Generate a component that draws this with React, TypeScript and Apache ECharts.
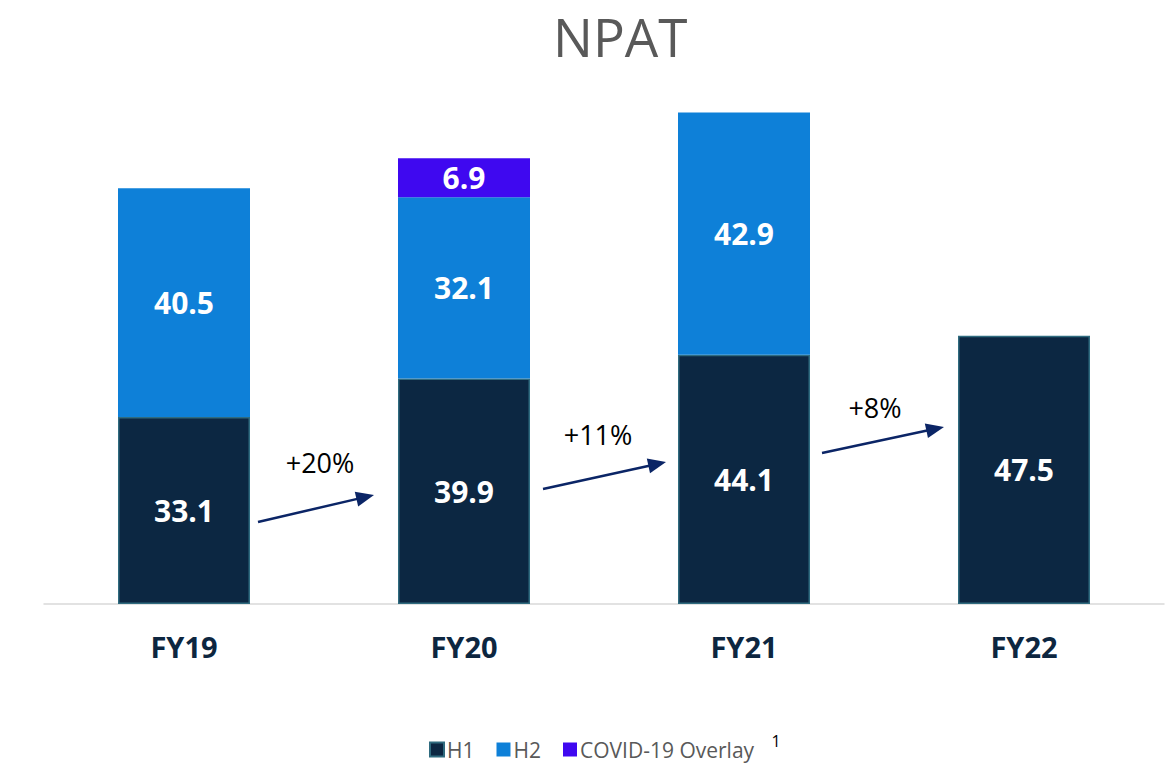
import React, { useEffect, useRef } from "react";
import * as echarts from "echarts";

const categories = ["FY19", "FY20", "FY21", "FY22"];
const h1Values = [33.1, 39.9, 44.1, 47.5];
const h2Values: (number | null)[] = [40.5, 32.1, 42.9, null];
const covidValues: (number | null)[] = [null, 6.9, null, null];
const growthLabels = ["+20%", "+11%", "+8%"];

const FONT = "'Open Sans', 'Noto Sans', sans-serif";

function arrow(x1: number, y1: number, x2: number, y2: number, color: string) {
  const dx = x2 - x1;
  const dy = y2 - y1;
  const len = Math.sqrt(dx * dx + dy * dy);
  const ux = dx / len;
  const uy = dy / len;
  const head = 18;
  const half = 7.5;
  const bx = x2 - ux * head;
  const by = y2 - uy * head;
  return [
    {
      type: "line",
      shape: { x1, y1, x2: bx + ux * 2, y2: by + uy * 2 },
      style: { stroke: color, lineWidth: 2.5 },
      silent: true,
    },
    {
      type: "polygon",
      shape: {
        points: [
          [x2, y2],
          [bx - uy * half, by + ux * half],
          [bx + uy * half, by - ux * half],
        ],
      },
      style: { fill: color },
      silent: true,
    },
  ];
}

export default function App() {
  const ref = useRef<HTMLDivElement>(null);
  useEffect(() => {
    if (!ref.current) return;
    const chart = echarts.init(ref.current, undefined, { renderer: "svg" });
    const arrowColor = "#0b2566";
    const labelStyle = {
      show: true,
      position: "inside",
      color: "#ffffff",
      fontFamily: FONT,
      fontWeight: "bold",
      fontSize: 30,
    };
    const pctStyle = {
      fontFamily: FONT,
      fontSize: 27,
      fill: "#000000",
      align: "center",
      verticalAlign: "middle",
    };
    chart.setOption({
      animation: false,
      backgroundColor: "#ffffff",
      title: {
        text: "NPAT",
        left: 548,
        top: 5,
        textStyle: {
          fontFamily: FONT,
          fontWeight: "normal",
          fontSize: 53,
          color: "#595959",
        },
      },
      grid: { left: 44, right: 11, top: 39, bottom: 162 },
      legend: {
        left: 424,
        top: 734,
        icon: "rect",
        itemWidth: 14,
        itemHeight: 14,
        itemGap: 22,
        textStyle: { fontFamily: FONT, fontSize: 21, color: "#595959", padding: [0, 0, 0, -2] },
        data: ["H1", "H2", "COVID-19 Overlay"],
      },
      xAxis: {
        type: "category",
        data: categories,
        axisLine: { show: true, lineStyle: { color: "#d9d9d9", width: 1.5 } },
        axisTick: { show: false },
        axisLabel: {
          margin: 28,
          fontFamily: FONT,
          fontWeight: "bold",
          fontSize: 29,
          color: "#0d2640",
        },
      },
      yAxis: {
        type: "value",
        min: 0,
        max: 100,
        show: false,
        splitLine: { show: false },
      },
      series: [
        {
          name: "H1",
          type: "bar",
          stack: "npat",
          barWidth: 132,
          data: h1Values,
          itemStyle: { color: "#0c2742", borderColor: "#2f6b7f", borderWidth: 1.5 },
          label: labelStyle,
        },
        {
          name: "H2",
          type: "bar",
          stack: "npat",
          barWidth: 132,
          data: h2Values,
          itemStyle: { color: "#0e80d8" },
          label: labelStyle,
        },
        {
          name: "COVID-19 Overlay",
          type: "bar",
          stack: "npat",
          barWidth: 132,
          data: covidValues,
          itemStyle: { color: "#3f08f0" },
          label: labelStyle,
        },
      ],
      graphic: [
        ...arrow(258, 522, 374, 495, arrowColor),
        ...arrow(543, 489, 666, 462, arrowColor),
        ...arrow(822, 453, 944, 427, arrowColor),
        { type: "text", x: 320, y: 462, style: { ...pctStyle, text: growthLabels[0] } },
        { type: "text", x: 598, y: 434, style: { ...pctStyle, text: growthLabels[1] } },
        { type: "text", x: 875, y: 407, style: { ...pctStyle, text: growthLabels[2] } },
        {
          type: "text",
          x: 776,
          y: 741,
          style: { text: "1", fontFamily: FONT, fontSize: 16, fill: "#000000", align: "center", verticalAlign: "middle" },
        },
      ],
    });
    return () => chart.dispose();
  }, []);
  return (
    <div
      ref={ref}
      style={{ position: "fixed", top: 0, left: 0, width: 1175, height: 766 }}
    />
  );
}
